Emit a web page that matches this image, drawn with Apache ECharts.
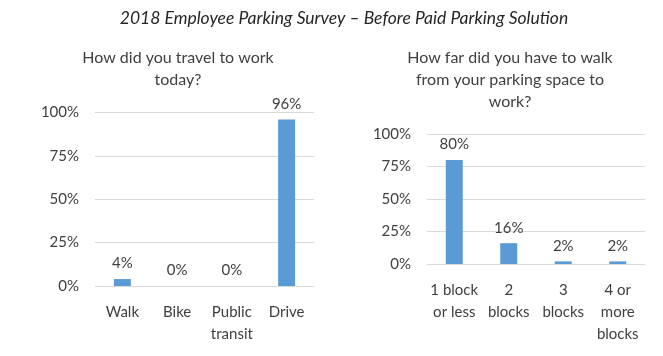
<!DOCTYPE html>
<html><head><meta charset="utf-8">
<script src="https://cdn.jsdelivr.net/npm/echarts@6/dist/echarts.min.js"></script>
<style>html,body{margin:0;padding:0;background:#fff}#c{width:663px;height:356px}</style>
</head><body><div id="c"></div>
<script>
const mainTitle = '2018 Employee Parking Survey \u2013 Before Paid Parking Solution';
const travelQuestion = 'How did you travel to work\ntoday?';
const travelCategories = ['Walk', 'Bike', 'Public\ntransit', 'Drive'];
const travelValues = [4, 0, 0, 96];
const walkQuestion = 'How far did you have to walk\nfrom your parking space to\nwork?';
const walkCategories = ['1 block\nor less', '2\nblocks', '3\nblocks', '4 or\nmore\nblocks'];
const walkValues = [80, 16, 2, 2];
const yTicks = [0, 25, 50, 75, 100];

const FONT = 'Lato';
const TXT = '#404040';
const BAR = '#5b9bd5';
const chart = echarts.init(document.getElementById('c'));

function yAxis(idx){
  return {gridIndex: idx, type:'value', min: yTicks[0], max: yTicks[yTicks.length-1], interval: yTicks[1]-yTicks[0],
    axisLine:{show:false}, axisTick:{show:false},
    splitLine:{lineStyle:{color:'#d9d9d9', width:1}},
    axisLabel:{formatter: v => v + '%', color: TXT, fontSize: 15, fontFamily: FONT, margin: 16}};
}
function xAxis(idx, cats){
  return {gridIndex: idx, type:'category', data: cats,
    axisLine:{show:false}, axisTick:{show:false},
    axisLabel:{color: TXT, fontSize: 15, fontFamily: FONT, lineHeight: 22, margin: 15, interval: 0}};
}
function bars(idx, vals){
  return {type:'bar', xAxisIndex: idx, yAxisIndex: idx, data: vals, barWidth: 17,
    itemStyle:{color: BAR},
    label:{show:true, position:'top', distance: 8, formatter: p => p.value + '%', color: TXT, fontSize: 15, fontFamily: FONT}};
}

chart.setOption({
  animation: false,
  title: [
    {text: mainTitle, left: 339, top: 4, textAlign:'center', textStyle:{fontStyle:'italic', fontWeight:'normal', fontSize:17.5, color:'#262626', fontFamily: FONT}},
    {text: travelQuestion, left: 173, top: 42, textAlign:'center', textStyle:{fontWeight:'normal', fontSize:16, color: TXT, fontFamily: FONT, lineHeight: 22}},
    {text: walkQuestion, left: 505, top: 42, textAlign:'center', textStyle:{fontWeight:'normal', fontSize:16, color: TXT, fontFamily: FONT, lineHeight: 22}}
  ],
  grid: [
    {left: 95, top: 112.5, width: 219, height: 173.5},
    {left: 427, top: 134, width: 218, height: 130}
  ],
  xAxis: [xAxis(0, travelCategories), xAxis(1, walkCategories)],
  yAxis: [yAxis(0), yAxis(1)],
  series: [bars(0, travelValues), bars(1, walkValues)]
});
</script></body></html>
